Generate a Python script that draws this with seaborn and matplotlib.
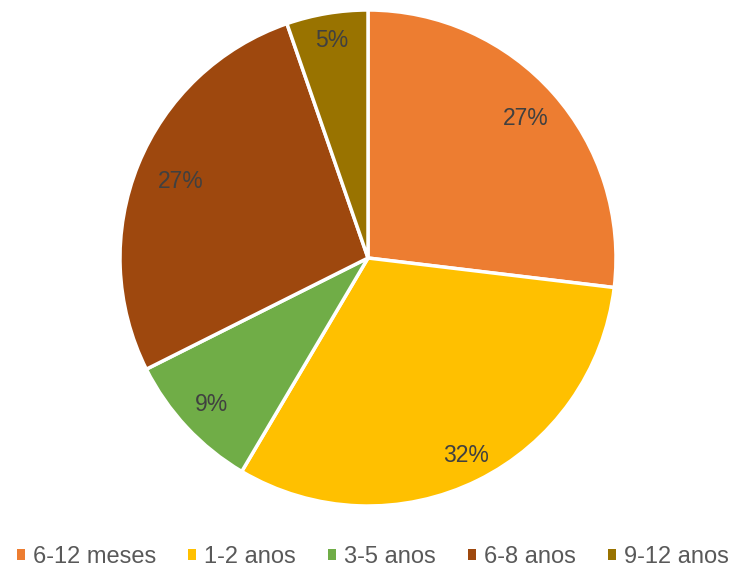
import matplotlib
matplotlib.use('Agg')
import matplotlib.pyplot as plt
import seaborn as sns
import numpy as np
from matplotlib.patches import Patch

categories = ['6-12 meses', '1-2 anos', '3-5 anos', '6-8 anos', '9-12 anos']
shares = [26.9, 31.6, 9.1, 27.1, 5.3]
colors = ['#ED7D31', '#FFC000', '#70AD47', '#9E480E', '#997300']
# label distance from centre (fraction of radius), as placed in the original
label_dist = [0.85, 0.89, 0.865, 0.815, 0.89]

sns.set_theme(style='white')
plt.rcParams['font.family'] = ['Liberation Sans', 'DejaVu Sans']

fig = plt.figure(figsize=(7.37, 5.70), dpi=100)
ax = fig.add_axes([120 / 737, 64 / 570, 496 / 737, 496 / 570])

wedges, texts, autotexts = ax.pie(
    shares, colors=colors, startangle=90, counterclock=False,
    autopct='%1.0f%%', pctdistance=0.85, radius=1,
    wedgeprops={'edgecolor': 'white', 'linewidth': 2.5},
    textprops={'color': '#404040', 'fontsize': 16.5})
for w, t, d in zip(wedges, autotexts, label_dist):
    mid = np.deg2rad((w.theta1 + w.theta2) / 2)
    t.set_position((d * np.cos(mid), d * np.sin(mid)))
ax.set_xlim(-1, 1)
ax.set_ylim(-1, 1)
ax.set_aspect('equal')
ax.axis('off')

handles = [Patch(facecolor=c, edgecolor='none') for c in colors]
fig.legend(handles, categories, loc='center', bbox_to_anchor=(373 / 737, 13 / 570),
           ncol=5, frameon=False, fontsize=17, handlelength=0.34, handleheight=0.34,
           handletextpad=0.34, columnspacing=1.36, labelcolor='#595959',
           borderpad=0, borderaxespad=0)

fig.savefig('out.png', dpi=100)
